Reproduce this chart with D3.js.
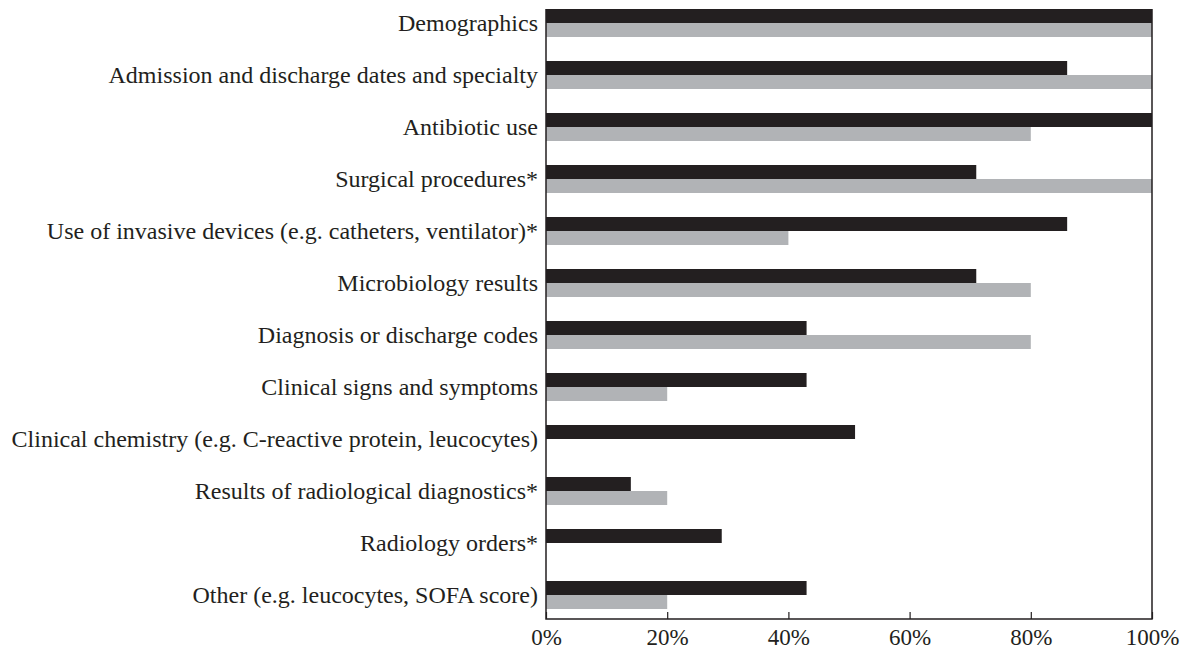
<!DOCTYPE html>
<html>
<head>
<meta charset="utf-8">
<script src="https://cdn.jsdelivr.net/npm/d3@7"></script>
<style>
  body { margin: 0; background: #fff; }
  text { font-family: "Liberation Serif", "Times New Roman", serif; fill: #231f20; }
</style>
</head>
<body>
<div id="chart"></div>
<script>
var categories = [
  "Demographics",
  "Admission and discharge dates and specialty",
  "Antibiotic use",
  "Surgical procedures*",
  "Use of invasive devices (e.g. catheters, ventilator)*",
  "Microbiology results",
  "Diagnosis or discharge codes",
  "Clinical signs and symptoms",
  "Clinical chemistry (e.g. C-reactive protein, leucocytes)",
  "Results of radiological diagnostics*",
  "Radiology orders*",
  "Other (e.g. leucocytes, SOFA score)"
];
var blackValues = [100, 86, 100, 71, 86, 71, 43, 43, 51, 14, 29, 43];
var grayValues  = [100, 100, 80, 100, 40, 80, 80, 20, 0, 20, 0, 20];
var tickValues = [0, 20, 40, 60, 80, 100];

var width = 1184;
var height = 650;
var margin = { top: 9, right: 32, bottom: 31, left: 546 };

var svg = d3.select("#chart")
  .append("svg")
  .attr("width", width)
  .attr("height", height);

var x = d3.scaleLinear()
  .domain([0, 100])
  .range([margin.left, width - margin.right]);

var plotBottom = height - margin.bottom;

// 12 groups, each 2 bars of 14px, step 52px
var y = d3.scaleBand()
  .domain(categories)
  .range([margin.top, plotBottom - 10])
  .paddingInner(24 / 52)
  .paddingOuter(0);

var barH = y.bandwidth() / 2;

// bars
svg.append("g")
  .selectAll("rect")
  .data(categories)
  .join("rect")
  .attr("x", x(0))
  .attr("y", d => y(d))
  .attr("width", (d, i) => x(blackValues[i]) - x(0))
  .attr("height", barH)
  .attr("fill", "#231f20");

svg.append("g")
  .selectAll("rect")
  .data(categories)
  .join("rect")
  .attr("x", x(0))
  .attr("y", d => y(d) + barH)
  .attr("width", (d, i) => x(grayValues[i]) - x(0))
  .attr("height", barH)
  .attr("fill", "#b1b3b6");

// frame (left, bottom, right)
svg.append("path")
  .attr("d", `M${x(0)},${margin.top}V${plotBottom}H${x(100)}V${margin.top}`)
  .attr("fill", "none")
  .attr("stroke", "#231f20")
  .attr("stroke-width", 1.5);

// x axis, ticks pointing up into the plot
var xAxis = d3.axisBottom(x)
  .tickValues(tickValues)
  .tickSize(-7)
  .tickPadding(14)
  .tickFormat(d => d + "%");

var gx = svg.append("g")
  .attr("transform", `translate(0,${plotBottom})`)
  .call(xAxis);
gx.select(".domain").remove();
gx.selectAll(".tick line").attr("stroke", "#231f20").attr("stroke-width", 1.2);
gx.selectAll(".tick text")
  .attr("font-size", 23)
  .attr("dy", "0.5em")
  .style("font-family", "'Liberation Serif', serif");

// category labels
svg.append("g")
  .selectAll("text")
  .data(categories)
  .join("text")
  .attr("x", x(0) - 8)
  .attr("y", d => y(d) + y.bandwidth() / 2)
  .attr("dy", "0.35em")
  .attr("text-anchor", "end")
  .attr("font-size", 24)
  .text(d => d);
</script>
</body>
</html>
